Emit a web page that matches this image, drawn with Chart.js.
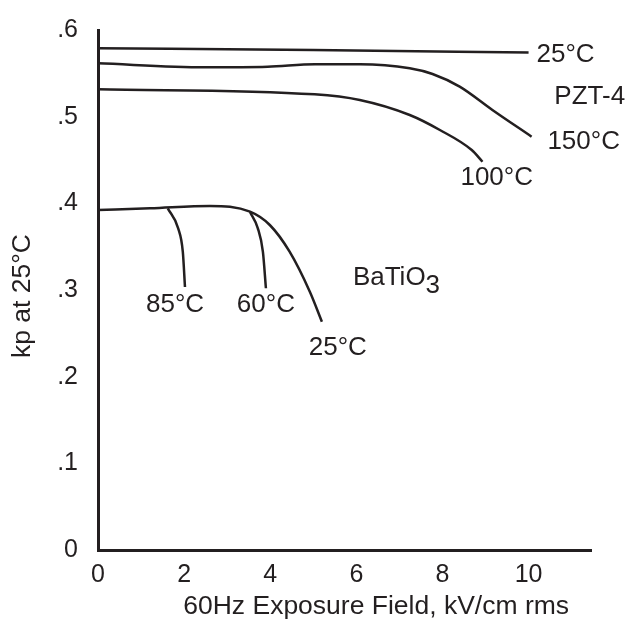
<!DOCTYPE html>
<html>
<head>
<meta charset="utf-8">
<script src="https://cdn.jsdelivr.net/npm/chart.js@4.4.1/dist/chart.umd.min.js"></script>
<style>
  html, body { margin: 0; padding: 0; background: #fff; }
  #wrap { width: 626px; height: 623px; }
</style>
</head>
<body>
<div id="wrap"><canvas id="kpChart" width="626" height="623"></canvas></div>
<script>
// kp vs 60Hz exposure field (PZT-4 and BaTiO3)
const xTicks = [0, 2, 4, 6, 8, 10];
const yTicks = [0, 0.1, 0.2, 0.3, 0.4, 0.5, 0.6];
const yTickLabels = ['0', '.1', '.2', '.3', '.4', '.5', '.6'];

// PZT-4 curves
const pzt25Field = [0, 5, 10];
const pzt25Kp = [0.579, 0.577, 0.574];
const pzt150Field = [0, 2.48, 3.94, 5.04, 6.08, 7.24, 7.77, 8.4, 9.16, 10.07];
const pzt150Kp = [0.5615, 0.557, 0.5577, 0.5604, 0.5605, 0.5558, 0.5492, 0.5346, 0.5077, 0.4769];
const pzt100Field = [0, 5.03, 6.08, 7.24, 7.94, 8.68, 8.93];
const pzt100Kp = [0.5316, 0.5258, 0.5192, 0.5019, 0.4846, 0.4615, 0.448];

// BaTiO3 curves
const bt25Field = [0, 1.21, 2.6, 3.53, 3.99, 4.45, 4.92, 5.2];
const bt25Kp = [0.3923, 0.3942, 0.397, 0.3904, 0.375, 0.3442, 0.298, 0.2634];
const bt85Field = [1.62, 1.86, 1.97, 2.02];
const bt85Kp = [0.3942, 0.3715, 0.344, 0.3035];
const bt60Field = [3.53, 3.71, 3.83, 3.9];
const bt60Kp = [0.39, 0.3715, 0.344, 0.302];

// curve labels, anchored in data units
const curveLabelText = ['25°C', 'PZT-4', '150°C', '100°C', '85°C', '60°C', '25°C'];
const curveLabelField = [10.86, 11.42, 11.28, 9.26, 1.79, 3.90, 5.57];
const curveLabelKp = [0.5711, 0.5227, 0.4707, 0.4292, 0.2826, 0.2826, 0.233];

const INK = '#231f20';
const FONT = '"Liberation Sans", Arial, Helvetica, sans-serif';

function pts(xs, ys) {
    return xs.map((x, i) => ({ x: x, y: ys[i] }));
}

function curve(xs, ys) {
    return {
        data: pts(xs, ys),
        borderColor: INK,
        borderWidth: 2.5,
        pointRadius: 0,
        fill: false,
        cubicInterpolationMode: 'monotone',
    };
}

const labelPlugin = {
    id: 'labels',
    afterDraw(chart) {
        const ctx = chart.ctx;
        const xs = chart.scales.x, ys = chart.scales.y;
        const area = chart.chartArea;
        ctx.save();
        ctx.fillStyle = INK;
        ctx.font = '26px ' + FONT;
        ctx.textAlign = 'center';
        ctx.textBaseline = 'middle';
        curveLabelText.forEach((t, i) => {
            ctx.fillText(t, xs.getPixelForValue(curveLabelField[i]), ys.getPixelForValue(curveLabelKp[i]));
        });

        // BaTiO3 with subscript
        ctx.textAlign = 'left';
        const bx = xs.getPixelForValue(5.92), by = ys.getPixelForValue(0.3138);
        ctx.fillText('BaTiO', bx, by);
        const w = ctx.measureText('BaTiO').width;
        ctx.fillText('3', bx + w, by + 8);

        // axis titles
        ctx.textAlign = 'center';
        ctx.font = '26.5px ' + FONT;
        ctx.fillText('60Hz Exposure Field, kV/cm rms', xs.getPixelForValue(6.46), area.bottom + 57);
        ctx.translate(23, ys.getPixelForValue(0.293));
        ctx.rotate(-Math.PI / 2);
        ctx.fillText('kp at 25°C', 0, 0);
        ctx.restore();
    }
};

new Chart(document.getElementById('kpChart'), {
    type: 'line',
    data: {
        datasets: [
            curve(pzt25Field, pzt25Kp),
            curve(pzt150Field, pzt150Kp),
            curve(pzt100Field, pzt100Kp),
            curve(bt25Field, bt25Kp),
            curve(bt85Field, bt85Kp),
            curve(bt60Field, bt60Kp),
        ]
    },
    options: {
        responsive: false,
        animation: false,
        layout: { padding: { left: 0, right: 35, top: 30, bottom: 0 } },
        plugins: { legend: { display: false }, tooltip: { enabled: false } },
        scales: {
            x: {
                type: 'linear',
                min: 0,
                max: 11.45,
                afterBuildTicks: s => { s.ticks = xTicks.map(v => ({ value: v })); },
                afterFit: s => { s.height = 73; },
                grid: { display: false },
                border: { display: true, color: INK, width: 3 },
                ticks: { color: INK, font: { family: FONT, size: 25 }, padding: 2, maxRotation: 0 },
            },
            y: {
                type: 'linear',
                min: 0,
                max: 0.6,
                afterBuildTicks: s => { s.ticks = yTicks.map(v => ({ value: v })); },
                afterFit: s => { s.width = 98; },
                grid: { display: false },
                border: { display: true, color: INK, width: 3 },
                ticks: {
                    color: INK,
                    font: { family: FONT, size: 25 },
                    padding: 12,
                    callback: (v) => yTickLabels[yTicks.findIndex(t => Math.abs(t - v) < 1e-9)],
                },
            }
        }
    },
    plugins: [labelPlugin]
});
</script>
</body>
</html>
